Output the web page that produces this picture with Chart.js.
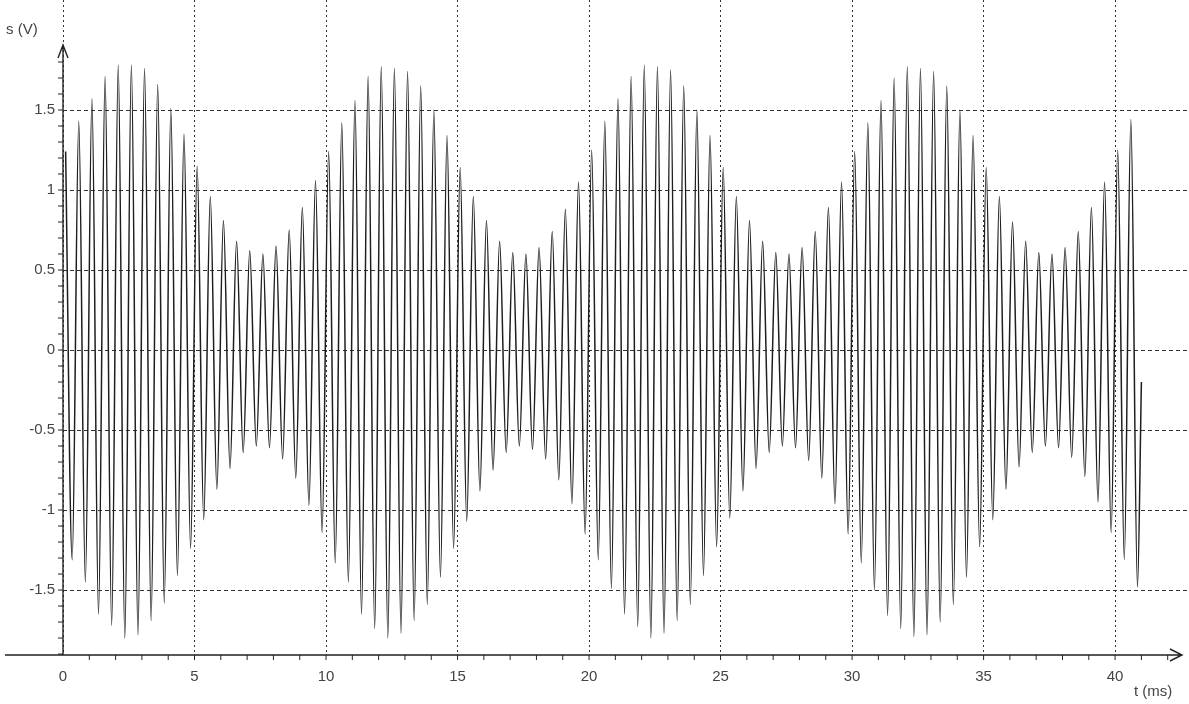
<!DOCTYPE html>
<html>
<head>
<meta charset="utf-8">
<title>s(t)</title>
<script src="https://cdn.jsdelivr.net/npm/chart.js@4.4.0/dist/chart.umd.min.js"></script>
<style>
  html, body { margin: 0; padding: 0; background: #fff; }
  #wrap { width: 1189px; height: 704px; position: relative; }
</style>
</head>
<body>
<div id="wrap"><canvas id="signal-chart"></canvas></div>
<script>
// axis ticks
const xTicks = [0, 5, 10, 15, 20, 25, 30, 35, 40];
const yTicks = [-1.5, -1, -0.5, 0, 0.5, 1, 1.5];

// carrier maxima (t in ms, s in V)
const peakTimes = [
  0.1, 0.6, 1.1, 1.6, 2.1, 2.6, 3.1, 3.6, 4.1, 4.6, 5.1, 5.6, 6.1, 6.6, 7.1, 7.6, 8.1, 8.6, 9.1, 9.6,
  10.1, 10.6, 11.1, 11.6, 12.1, 12.6, 13.1, 13.6, 14.1, 14.6, 15.1, 15.6, 16.1, 16.6, 17.1, 17.6, 18.1, 18.6, 19.1, 19.6,
  20.1, 20.6, 21.1, 21.6, 22.1, 22.6, 23.1, 23.6, 24.1, 24.6, 25.1, 25.6, 26.1, 26.6, 27.1, 27.6, 28.1, 28.6, 29.1, 29.6,
  30.1, 30.6, 31.1, 31.6, 32.1, 32.6, 33.1, 33.6, 34.1, 34.6, 35.1, 35.6, 36.1, 36.6, 37.1, 37.6, 38.1, 38.6, 39.1, 39.6,
  40.1, 40.6
];
const peakVolts = [
  1.24, 1.43, 1.57, 1.71, 1.78, 1.78, 1.76, 1.66, 1.51, 1.35, 1.15, 0.96, 0.81, 0.68, 0.62, 0.60, 0.65, 0.75, 0.89, 1.06,
  1.24, 1.42, 1.56, 1.71, 1.77, 1.76, 1.74, 1.65, 1.50, 1.34, 1.14, 0.96, 0.81, 0.68, 0.61, 0.60, 0.64, 0.74, 0.88, 1.05,
  1.25, 1.43, 1.57, 1.71, 1.78, 1.77, 1.75, 1.65, 1.50, 1.34, 1.14, 0.96, 0.81, 0.68, 0.61, 0.60, 0.64, 0.74, 0.89, 1.05,
  1.24, 1.42, 1.56, 1.70, 1.77, 1.76, 1.74, 1.65, 1.50, 1.34, 1.14, 0.96, 0.80, 0.68, 0.61, 0.60, 0.64, 0.74, 0.89, 1.05,
  1.25, 1.44
];

// carrier minima
const troughTimes = [
  0.35, 0.85, 1.35, 1.85, 2.35, 2.85, 3.35, 3.85, 4.35, 4.85, 5.35, 5.85, 6.35, 6.85, 7.35, 7.85, 8.35, 8.85, 9.35, 9.85,
  10.35, 10.85, 11.35, 11.85, 12.35, 12.85, 13.35, 13.85, 14.35, 14.85, 15.35, 15.85, 16.35, 16.85, 17.35, 17.85, 18.35, 18.85, 19.35, 19.85,
  20.35, 20.85, 21.35, 21.85, 22.35, 22.85, 23.35, 23.85, 24.35, 24.85, 25.35, 25.85, 26.35, 26.85, 27.35, 27.85, 28.35, 28.85, 29.35, 29.85,
  30.35, 30.85, 31.35, 31.85, 32.35, 32.85, 33.35, 33.85, 34.35, 34.85, 35.35, 35.85, 36.35, 36.85, 37.35, 37.85, 38.35, 38.85, 39.35, 39.85,
  40.35, 40.85
];
const troughVolts = [
  -1.31, -1.45, -1.65, -1.72, -1.80, -1.78, -1.69, -1.58, -1.41, -1.24, -1.06, -0.87, -0.74, -0.64, -0.60, -0.61, -0.68, -0.80, -0.97, -1.14,
  -1.33, -1.45, -1.65, -1.74, -1.80, -1.77, -1.69, -1.59, -1.42, -1.24, -1.07, -0.88, -0.75, -0.64, -0.60, -0.62, -0.68, -0.81, -0.96, -1.15,
  -1.31, -1.49, -1.65, -1.73, -1.80, -1.77, -1.69, -1.59, -1.41, -1.23, -1.05, -0.88, -0.74, -0.64, -0.60, -0.61, -0.69, -0.80, -0.96, -1.15,
  -1.33, -1.50, -1.66, -1.74, -1.79, -1.78, -1.70, -1.59, -1.42, -1.23, -1.06, -0.87, -0.73, -0.64, -0.60, -0.61, -0.67, -0.79, -0.95, -1.14,
  -1.31, -1.48
];

// where the recording stops
const lastTime = 41.0;
const lastVolt = -0.2;

const points = [];
peakTimes.forEach((t, i) => {
  points.push({ x: t, y: peakVolts[i] });
  points.push({ x: troughTimes[i], y: troughVolts[i] });
});
points.push({ x: lastTime, y: lastVolt });

const FONT = 'Liberation Sans, Arial, sans-serif';

// axis lines, arrows, small ticks and axis names
const axesDecor = {
  id: 'axesDecor',
  afterDraw(chart) {
    const { ctx, scales: { x, y } } = chart;
    const x0 = x.getPixelForValue(0);
    const yb = chart.chartArea.bottom;
    ctx.save();
    ctx.strokeStyle = '#222';
    ctx.lineWidth = 1.4;
    ctx.setLineDash([]);

    // y axis + arrow
    ctx.beginPath();
    ctx.moveTo(x0, yb);
    ctx.lineTo(x0, 45);
    ctx.moveTo(x0 - 5, 58);
    ctx.lineTo(x0, 45);
    ctx.lineTo(x0 + 5, 58);
    ctx.stroke();

    // x axis + arrow
    ctx.beginPath();
    ctx.moveTo(5, yb);
    ctx.lineTo(1182, yb);
    ctx.moveTo(1170, yb - 6);
    ctx.lineTo(1182, yb);
    ctx.lineTo(1170, yb + 6);
    ctx.stroke();

    // minor ticks
    ctx.lineWidth = 1;
    ctx.beginPath();
    for (let v = -19; v <= 18; v++) {
      const py = y.getPixelForValue(v / 10);
      ctx.moveTo(x0 - 5, py);
      ctx.lineTo(x0, py);
    }
    for (let t = 1; t <= 42; t++) {
      const px = x.getPixelForValue(t);
      ctx.moveTo(px, yb);
      ctx.lineTo(px, yb + 5);
    }
    ctx.stroke();

    ctx.fillStyle = '#444';
    ctx.font = '15px ' + FONT;
    ctx.textBaseline = 'middle';
    ctx.textAlign = 'left';
    ctx.fillText('s (V)', 6, 30);
    ctx.fillText('t (ms)', 1134, 692);
    ctx.restore();
  }
};

new Chart(document.getElementById('signal-chart').getContext('2d'), {
  type: 'line',
  data: {
    datasets: [{
      data: points,
      borderColor: '#1e1e1e',
      borderWidth: 1.5,
      pointRadius: 0,
      fill: false,
      cubicInterpolationMode: 'monotone'
    }]
  },
  options: {
    responsive: true,
    maintainAspectRatio: false,
    animation: false,
    layout: { padding: 0 },
    plugins: {
      legend: { display: false },
      tooltip: { enabled: false }
    },
    scales: {
      x: {
        type: 'linear',
        position: 'bottom',
        min: 0,
        max: 42.81,
        afterBuildTicks: axis => { axis.ticks = xTicks.map(v => ({ value: v })); },
        afterFit: axis => { axis.height = 49; axis.paddingLeft = 0; axis.paddingRight = 0; },
        grid: { color: '#333', lineWidth: 1, drawTicks: false },
        border: { display: false, dash: [2, 3] },
        ticks: {
          padding: 13,
          color: '#444',
          font: { family: FONT, size: 15 },
          maxRotation: 0,
          autoSkip: false,
          callback: v => String(v)
        }
      },
      y: {
        type: 'linear',
        position: 'left',
        min: -1.906,
        max: 2.1875,
        afterBuildTicks: axis => { axis.ticks = yTicks.map(v => ({ value: v })); },
        afterFit: axis => { axis.width = 63; axis.paddingTop = 0; axis.paddingBottom = 0; },
        grid: { color: '#333', lineWidth: 1, drawTicks: false },
        border: { display: false, dash: [4, 3] },
        ticks: {
          padding: 8,
          color: '#444',
          font: { family: FONT, size: 15 },
          callback: v => String(v)
        }
      }
    }
  },
  plugins: [axesDecor]
});
</script>
</body>
</html>
